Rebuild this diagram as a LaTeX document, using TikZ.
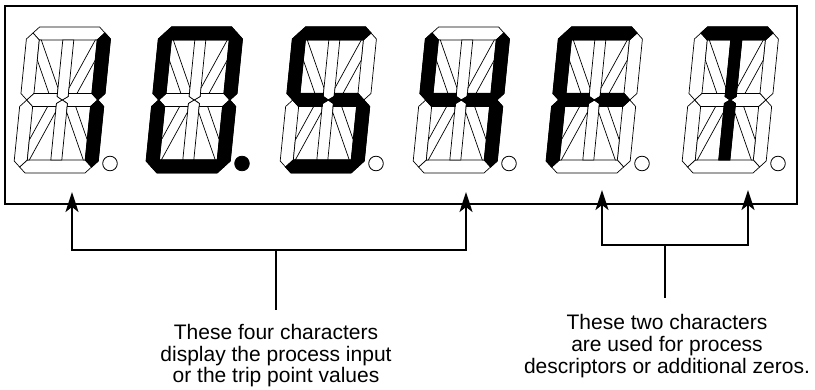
\documentclass[tikz,border=0pt]{standalone}
\usepackage{fontspec}
\setmainfont{Liberation Sans}
\usetikzlibrary{arrows.meta}

% 14-segment geometry (local, unslanted; W=84, H=146)
\def\spa{(12,146)--(72,146)--(78,140)--(71,133)--(13,133)--(6,140)--cycle}
\def\spd{(12,0)--(72,0)--(78,6)--(71,13)--(13,13)--(6,6)--cycle}
\def\spf{(0,134)--(6,140)--(13,133)--(13,79.5)--(6.5,73)--(0,79.5)--cycle}
\def\spe{(0,66.5)--(6.5,73)--(13,66.5)--(13,13)--(6,6)--(0,12)--cycle}
\def\spb{(84,134)--(78,140)--(71,133)--(71,79.5)--(77.5,73)--(84,79.5)--cycle}
\def\spc{(84,66.5)--(77.5,73)--(71,66.5)--(71,13)--(78,6)--(84,12)--cycle}
\def\spgA{(6.5,73)--(13,79.5)--(36.5,79.5)--(36.5,76.5)--(42,73)--(36.5,69.5)--(36.5,66.5)--(13,66.5)--cycle}
\def\spgB{(42,73)--(47.5,76.5)--(47.5,79.5)--(71,79.5)--(77.5,73)--(71,66.5)--(47.5,66.5)--(47.5,69.5)--cycle}
\def\spi{(36.5,133)--(47.5,133)--(47.5,76.5)--(42,73)--(36.5,76.5)--cycle}
\def\spl{(36.5,13)--(47.5,13)--(47.5,69.5)--(42,73)--(36.5,69.5)--cycle}
\def\sph{(13,113)--(13,133)--(15,133)--(36.5,85)--(36.5,79.5)--(28,79.5)--cycle}
\def\spj{(71,113)--(71,133)--(69,133)--(47.5,85)--(47.5,79.5)--(56,79.5)--cycle}
\def\spk{(13,33)--(13,13)--(15,13)--(36.5,61)--(36.5,66.5)--(28,66.5)--cycle}
\def\spm{(71,33)--(71,13)--(69,13)--(47.5,61)--(47.5,66.5)--(56,66.5)--cycle}

\tikzset{
  seg/.style={draw=black,line width=0.7pt,fill=white,line join=miter},
  litseg/.style={draw=black,line width=1pt,fill=black,line join=miter},
  dotoff/.style={circle,draw=black,line width=0.8pt,fill=white,minimum size=14.6pt,inner sep=0pt},
  doton/.style={circle,draw=black,line width=0.8pt,fill=black,minimum size=14.6pt,inner sep=0pt},
  panel/.style={draw=black,line width=2.8pt,inner sep=0pt},
  conn/.style={draw=black,line width=2.2pt,line join=miter},
  tipped/.style={conn,{Stealth[length=20pt,width=13pt,inset=5pt]}-{Stealth[length=20pt,width=13pt,inset=5pt]}},
  caption/.style={align=center,inner sep=0pt,anchor=north,font=\fontsize{21}{21.7}\selectfont}
}

\newcommand\alnchar[4]{%
  \begin{scope}[shift={(#2,216)},xslant=0.1]
    \foreach \s in {a,b,c,d,e,f,gA,gB,h,i,j,k,l,m} {\path[seg] \csname sp\s\endcsname;}
    \foreach \s in {#3} {\path[litseg] \csname sp\s\endcsname;}
  \end{scope}
  \node[#4] (#1dot) at (#2+97,225.5) {};
}

\begin{document}
\begin{tikzpicture}[x=1pt,y=1pt]
\useasboundingbox (0,0) rectangle (815,389);

\node[panel,minimum width=792pt,minimum height=198pt] (display) at (401,284) {};

\alnchar{one}{13}{b,c}{dotoff}
\alnchar{zero}{145}{a,b,c,d,e,f}{doton}
\alnchar{ess}{279}{a,f,gA,gB,c,d}{dotoff}
\alnchar{four}{412}{f,gA,gB,b,c}{dotoff}
\alnchar{eff}{545}{a,f,e,gA,gB}{dotoff}
\alnchar{tee}{681}{a,i,l}{dotoff}

% left bracket
\coordinate (la) at (72,197);
\coordinate (lb) at (466,197);
\coordinate (lac) at (72,139);
\coordinate (lbc) at (466,139);
\coordinate (lm) at (276,139);
\coordinate (ls) at (276,79);
\draw[tipped] (la) -- (lac) -- (lbc) -- (lb);
\draw[conn] (lm) -- (ls);

% right bracket
\coordinate (ra) at (602,199);
\coordinate (rb) at (748,199);
\coordinate (rac) at (602,144);
\coordinate (rbc) at (748,144);
\coordinate (rm) at (665,144);
\coordinate (rs) at (665,91);
\draw[tipped] (ra) -- (rac) -- (rbc) -- (rb);
\draw[conn] (rm) -- (rs);

\node[caption] (ltext) at (276,65) {These four characters\\display the process input\\or the trip point values};
\node[caption] (rtext) at (667,74.5) {These two characters\\are used for process\\descriptors or additional zeros.};
\end{tikzpicture}
\end{document}
